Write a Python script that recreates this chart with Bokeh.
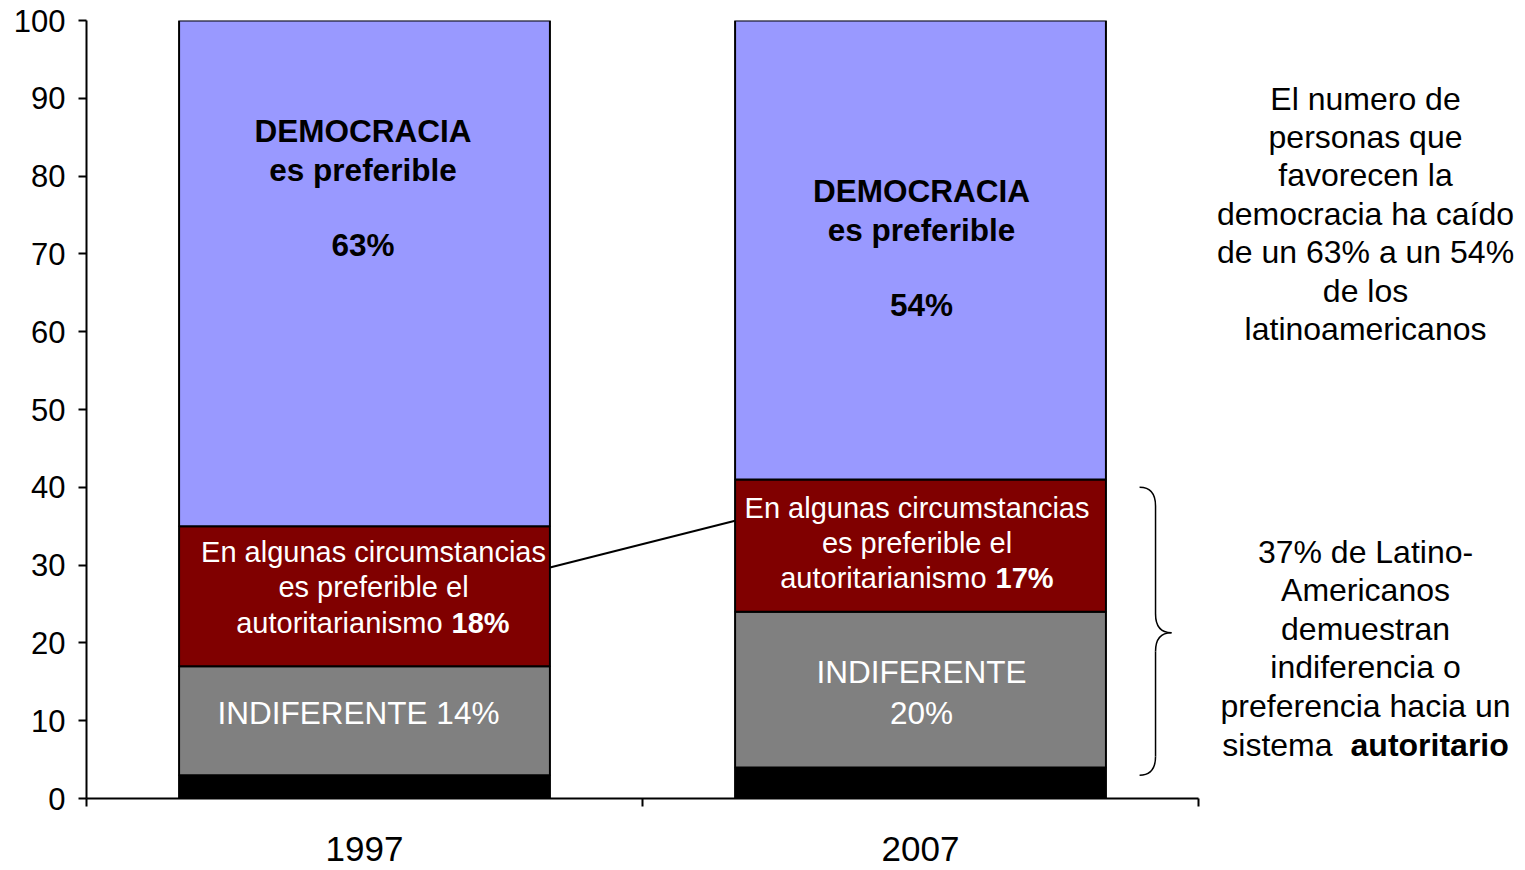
from bokeh.plotting import figure
from bokeh.models import ColumnDataSource, Range1d, LinearAxis, FixedTicker
from bokeh.core.properties import value
from bokeh.embed import file_html
from bokeh.resources import INLINE

# ---------------- data ----------------
years = ["1997", "2007"]
base_black = [3, 4]
indiferente = [14, 20]
autoritarismo = [18, 17]
democracia = [65, 59]

dem_pct = ["63%", "54%"]
aut_pct = ["18%", "17%"]
ind_pct = ["14%", "20%"]

y_ticks = list(range(0, 101, 10))

series = ["base", "indiferente", "autoritarismo", "democracia"]
colors = ["#000000", "#808080", "#800000", "#9999FF"]

FONT = value("Liberation Sans")

xc = [i + 0.5 for i in range(len(years))]
src = ColumnDataSource(dict(x=xc, base=base_black, indiferente=indiferente,
                            autoritarismo=autoritarismo, democracia=democracia))

p = figure(width=1522, height=870, output_backend="svg", toolbar_location=None,
           x_range=Range1d(0, 2.5827), y_range=Range1d(0, 100),
           x_axis_type=None, y_axis_type=None,
           min_border_left=86, min_border_right=0, min_border_top=20, min_border_bottom=72)
p.outline_line_color = None
p.background_fill_color = "white"
p.border_fill_color = "white"

BAR_W = 0.667
p.vbar_stack(series, x="x", width=BAR_W, color=colors, line_color="black",
             line_width=2, source=src)

# ---------------- axes ----------------
yax = LinearAxis(ticker=FixedTicker(ticks=y_ticks))
yax.axis_line_width = 2
yax.major_tick_line_width = 2
yax.major_tick_out = 8
yax.major_tick_in = 0
yax.minor_tick_line_color = None
yax.major_label_standoff = 13
yax.major_label_text_font = "Liberation Sans"
yax.major_label_text_font_size = "31px"
yax.major_label_text_color = "black"
p.add_layout(yax, "left")

xax = LinearAxis(ticker=FixedTicker(ticks=xc, minor_ticks=[0, 1, 2]), bounds=(0, len(years)))
xax.major_label_overrides = {v: y for v, y in zip(xc, years)}
xax.axis_line_width = 2
xax.major_tick_out = 0
xax.major_tick_in = 0
xax.major_tick_line_color = None
xax.minor_tick_out = 8
xax.minor_tick_in = 0
xax.minor_tick_line_width = 2
xax.minor_tick_line_color = "black"
xax.major_label_standoff = 30
xax.major_label_text_font = "Liberation Sans"
xax.major_label_text_font_size = "35px"
xax.major_label_text_color = "black"
p.add_layout(xax, "below")

# ---------------- in-bar labels ----------------
dem_title_y = [83.3, 75.6]
dem_pct_y = [71.1, 63.4]
dem_dx = [-1.5, 1]
p.text(x=xc, y=dem_title_y, text=["DEMOCRACIA\nes preferible"] * 2, x_offset=dem_dx,
       text_font=FONT, text_font_size="31.5px", text_font_style="bold",
       text_align="center", text_baseline="middle", text_color="black", text_line_height=1.077)
p.text(x=xc, y=dem_pct_y, text=dem_pct, x_offset=dem_dx,
       text_font=FONT, text_font_size="31.5px", text_font_style="bold",
       text_align="center", text_baseline="middle", text_color="black")

aut_head_y = [29.4, 35.1]
aut_last_y = [22.5, 28.3]
aut_dx = [9, -3.5]
aut_split_l = [78, 66]
aut_split_r = [87, 75]
p.text(x=xc, y=aut_head_y, text=["En algunas circumstancias\nes preferible el"] * 2, x_offset=aut_dx,
       text_font=FONT, text_font_size="29px", text_align="center", text_baseline="middle",
       text_color="white", text_line_height=1.093)
p.text(x=xc, y=aut_last_y, text=["autoritarianismo"] * 2, x_offset=aut_split_l,
       text_font=FONT, text_font_size="29px", text_align="right", text_baseline="middle",
       text_color="white")
p.text(x=xc, y=aut_last_y, text=aut_pct, x_offset=aut_split_r,
       text_font=FONT, text_font_size="29px", text_font_style="bold", text_align="left",
       text_baseline="middle", text_color="white")

ind_y = [11.05, 13.6]
ind_dx = [-6, 1]
ind_text = ["INDIFERENTE " + ind_pct[0], "INDIFERENTE\n" + ind_pct[1]]
p.text(x=xc, y=ind_y, text=ind_text, x_offset=ind_dx,
       text_font=FONT, text_font_size="31.5px", text_align="center", text_baseline="middle",
       text_color="white", text_line_height=1.134)

# ---------------- connector line between red segments ----------------
conn_y = [29.7, 35.7]
p.segment(x0=xc[0] + BAR_W / 2, y0=conn_y[0], x1=xc[1] - BAR_W / 2, y1=conn_y[1],
          line_color="black", line_width=2)

# ---------------- brace ----------------
br_top, br_bot, br_mid = 40.0, 3.0, 21.3
bx_end, bx_mid, bx_tip = 1.894, 1.9227, 1.9514
cyr = 2.4  # curve height (data units)
p.quadratic(x0=[bx_end, bx_mid, bx_tip, bx_mid], y0=[br_top, br_mid + cyr, br_mid, br_bot + cyr],
            x1=[bx_mid, bx_tip, bx_mid, bx_end], y1=[br_top - cyr, br_mid, br_mid - cyr, br_bot],
            cx=[bx_mid, bx_mid, bx_mid, bx_mid], cy=[br_top, br_mid, br_mid, br_bot],
            line_color="black", line_width=1.5)
p.segment(x0=[bx_mid, bx_mid], y0=[br_top - cyr, br_mid - cyr],
          x1=[bx_mid, bx_mid], y1=[br_mid + cyr, br_bot + cyr],
          line_color="black", line_width=1.5)

# ---------------- right-hand notes ----------------
note_x = 2.3004
NOTE_LH = 1.069
p.text(x=[note_x], y=[75.13],
       text=["El numero de\npersonas que\nfavorecen la\ndemocracia ha caído\nde un 63% a un 54%\nde los\nlatinoamericanos"],
       text_font=FONT, text_font_size="32px", text_align="center", text_baseline="middle",
       text_color="black", text_line_height=NOTE_LH)
p.text(x=[note_x], y=[21.79],
       text=["37% de Latino-\nAmericanos\ndemuestran\nindiferencia o\npreferencia hacia un"],
       text_font=FONT, text_font_size="32px", text_align="center", text_baseline="middle",
       text_color="black", text_line_height=NOTE_LH)
p.text(x=[note_x], y=[6.94], text=["sistema"], x_offset=[-33],
       text_font=FONT, text_font_size="32px", text_align="right", text_baseline="middle",
       text_color="black")
p.text(x=[note_x], y=[6.94], text=["autoritario"], x_offset=[-15],
       text_font=FONT, text_font_size="32px", text_font_style="bold", text_align="left",
       text_baseline="middle", text_color="black")

open("out.html", "w").write(file_html(p, INLINE))
